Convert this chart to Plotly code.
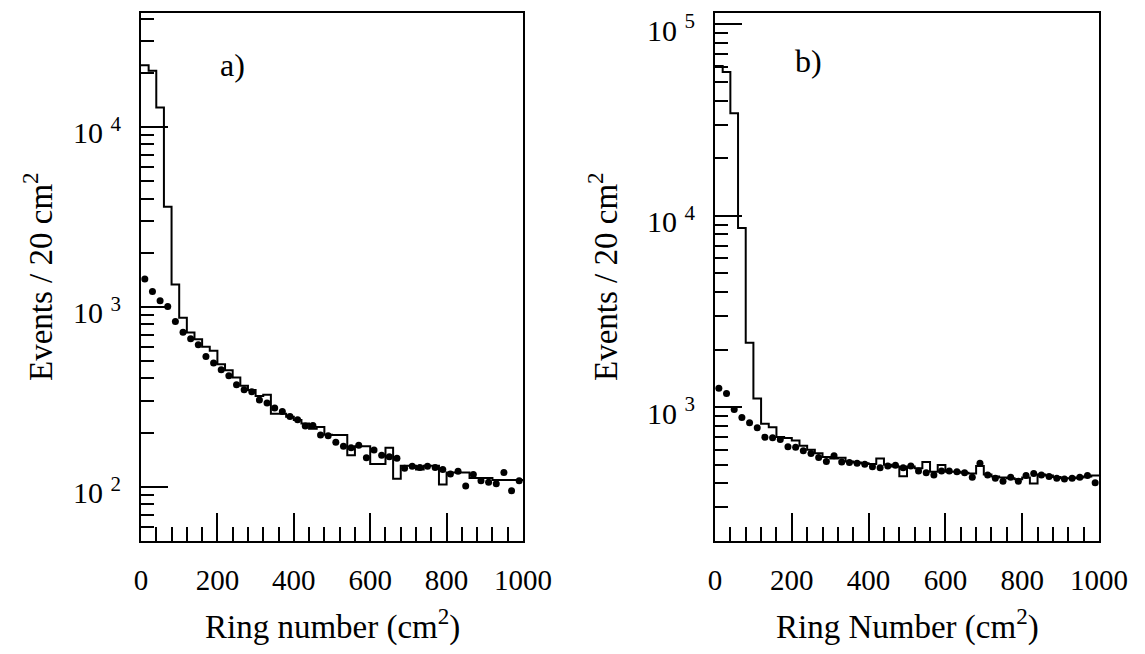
import numpy as np
import plotly.graph_objects as go

# ---------------- data ----------------
BIN_WIDTH = 20
X_MAX = 1000
bin_lo = np.arange(0, X_MAX, BIN_WIDTH)
bin_centers = bin_lo + BIN_WIDTH / 2

# panel a) : histogram (line) and data points (dots)
hist_a = [22000, 20500, 12800, 3600, 1330, 870, 720, 660, 600, 570,
          480, 445, 405, 365, 345, 320, 325, 255, 255, 245,
          235, 225, 210, 215, 195, 194, 194, 150, 168, 168,
          134, 134, 165, 111, 131, 131, 125, 131, 131, 103,
          120, 120, 120, 112, 112, 112, 109, 109, 109, 109]
dots_a = [1430, 1217, 1080, 1004, 828, 722, 664, 615, 530, 487,
          447, 414, 369, 346, 338, 304, 292, 274, 262, 246,
          236, 218, 219, 194, 192, 177, 168, 165, 170, 145,
          160, 150, 147, 144, 127, 130, 128, 130, 128, 125,
          118, 122, 101, 117, 108, 106, 104, 120, 95, 108]

# panel b)
hist_b = [60700, 56400, 34400, 8650, 2170, 1112, 820, 787, 700, 690,
          670, 630, 600, 575, 550, 540, 545, 520, 515, 510,
          505, 540, 500, 490, 436, 490, 480, 518, 460, 499,
          460, 460, 455, 450, 493, 445, 435, 430, 425, 420,
          430, 400, 445, 440, 432, 425, 425, 430, 435, 440]
dots_b = [1256, 1181, 972, 883, 830, 781, 697, 692, 678, 622,
          617, 592, 573, 546, 520, 557, 518, 514, 510, 503,
          488, 483, 493, 497, 483, 493, 464, 455, 442, 464,
          464, 460, 455, 431, 510, 442, 425, 411, 431, 411,
          440, 450, 442, 435, 425, 422, 425, 431, 440, 403]

x_tickvals = [0, 200, 400, 600, 800, 1000]
x_ticktext = ["0", "200", "400", "600", "800", "1000"]
y_decades_a = [2, 3, 4]
y_decades_b = [3, 4, 5]
panel_labels = ["a)", "b)"]
x_titles = ["Ring number (cm<sup>2</sup>)", "Ring Number (cm<sup>2</sup>)"]
y_title = "Events / 20 cm<sup>2</sup>"

# ---------------- layout geometry ----------------
PAGE_OFF = 8                      # default body margin of the html page
W, H = 1145 - 2 * PAGE_OFF, 654 - 2 * PAGE_OFF
FONT = "Liberation Serif"


def px_x(p):
    return (p - PAGE_OFF) / W


def px_y(p):
    return 1 - (p - PAGE_OFF) / H


fig = go.Figure()


def add_panel(idx, hist, dots):
    xa = "x" if idx == 0 else "x2"
    ya = "y" if idx == 0 else "y2"
    fig.add_trace(go.Scatter(
        x=list(bin_lo) + [X_MAX], y=list(hist) + [hist[-1]],
        mode="lines", line=dict(color="black", width=2, shape="hv"),
        xaxis=xa, yaxis=ya, showlegend=False))
    fig.add_trace(go.Scatter(
        x=bin_centers, y=dots, mode="markers",
        marker=dict(color="black", size=7, symbol="circle"),
        xaxis=xa, yaxis=ya, showlegend=False))


add_panel(0, hist_a, dots_a)
add_panel(1, hist_b, dots_b)


def minor_log(lo, hi):
    vals = []
    for e in range(lo, hi + 1):
        for m in range(2, 10):
            vals.append(m * 10 ** e)
    return vals


def xaxis_cfg(dom, anchor):
    return dict(
        domain=dom, range=[0, X_MAX], anchor=anchor, tickmode="array",
        tickvals=x_tickvals, ticktext=x_ticktext,
        ticks="inside", ticklen=28, tickwidth=2, tickcolor="black",
        minor=dict(tickmode="array",
                   tickvals=[v for v in range(40, X_MAX, 40) if v % 200 != 0],
                   ticks="inside", ticklen=14, tickwidth=2, tickcolor="black"),
        showline=True, linewidth=2, linecolor="black", mirror=True,
        showgrid=False, zeroline=False, automargin=False,
        tickfont=dict(family=FONT, size=29, color="black"),
        ticklabelstandoff=12, ticklabeloverflow="allow",
    )


def yaxis_cfg(dom, decs, rng, anchor):
    return dict(
        domain=dom, type="log", range=rng, anchor=anchor,
        tickmode="array", tickvals=[10 ** d for d in decs],
        ticktext=["10 <sup>%d</sup>" % d for d in decs],
        ticks="inside", ticklen=27, tickwidth=2, tickcolor="black",
        minor=dict(tickmode="array",
                   tickvals=minor_log(decs[0] - 1, decs[-1]),
                   ticks="inside", ticklen=13, tickwidth=2, tickcolor="black"),
        showline=True, linewidth=2, linecolor="black", mirror=True,
        showgrid=False, zeroline=False, automargin=False,
        tickfont=dict(family=FONT, size=30, color="black"),
        ticklabelstandoff=12, ticklabelshift=6, ticklabeloverflow="allow",
    )


ydom = [px_y(541), px_y(13)]
fig.update_layout(
    width=W, height=H, autosize=False,
    margin=dict(l=0, r=0, t=0, b=0, pad=0, autoexpand=False),
    paper_bgcolor="white", plot_bgcolor="white",
    xaxis=xaxis_cfg([px_x(141), px_x(523)], "y"),
    yaxis=yaxis_cfg(ydom, y_decades_a, [np.log10(50), 4.633], "x"),
    xaxis2=xaxis_cfg([px_x(715), px_x(1099)], "y2"),
    yaxis2=yaxis_cfg(ydom, y_decades_b, [np.log10(200), 5.06], "x2"),
)

annos = []
for i, (cx, lx, ly) in enumerate([(332, 232, 65), (907, 808, 61)]):
    annos.append(dict(text=panel_labels[i], x=px_x(lx), y=px_y(ly),
                      xref="paper", yref="paper", showarrow=False,
                      xanchor="center", yanchor="middle",
                      font=dict(family=FONT, size=32, color="black")))
    annos.append(dict(text=x_titles[i], x=px_x(cx), y=px_y(624),
                      xref="paper", yref="paper", showarrow=False,
                      xanchor="center", yanchor="middle",
                      font=dict(family=FONT, size=33, color="black")))
for tx in (38, 603):
    annos.append(dict(text=y_title, x=px_x(tx), y=px_y(277), textangle=-90,
                      xref="paper", yref="paper", showarrow=False,
                      xanchor="center", yanchor="middle",
                      font=dict(family=FONT, size=33, color="black")))
fig.update_layout(annotations=annos)

fig.write_html("out.html")
